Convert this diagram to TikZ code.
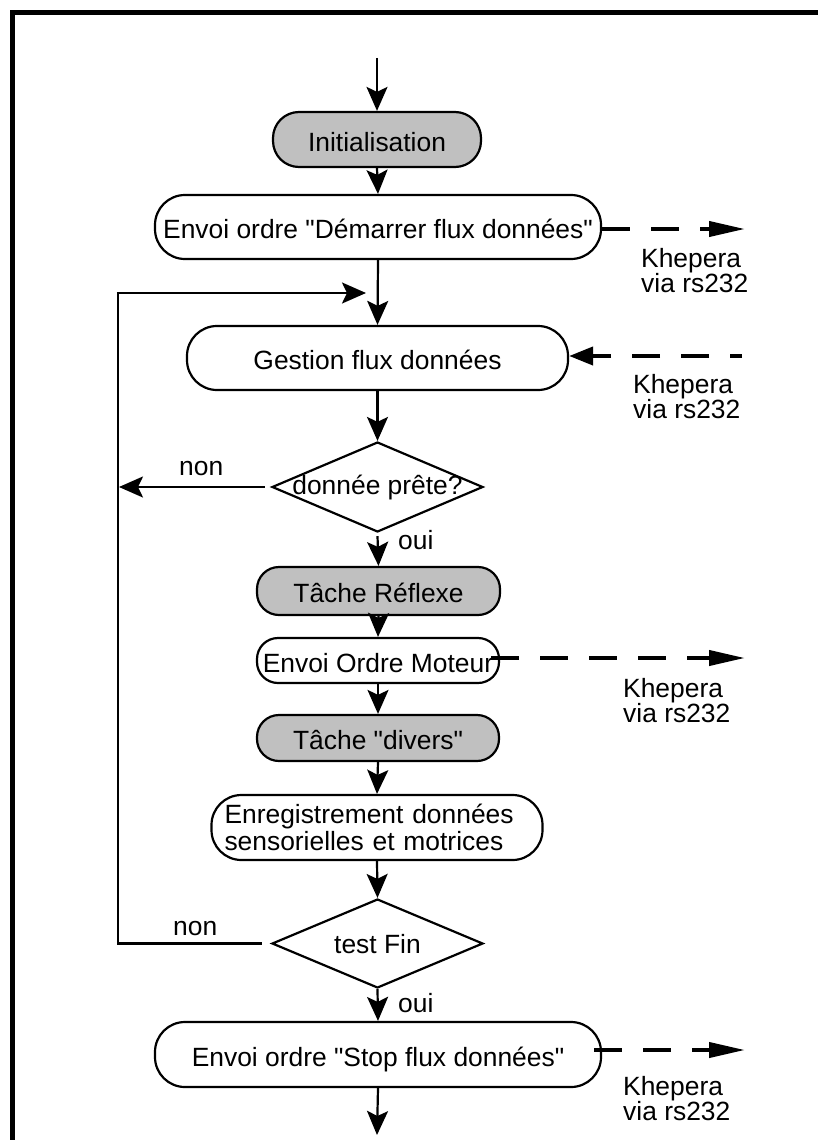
\documentclass[tikz,border=0pt]{standalone}
\usepackage{fontspec}
\setmainfont{Liberation Sans}[Ligatures=TeXOff]
\usetikzlibrary{arrows.meta,shapes.geometric}
\definecolor{boxgray}{RGB}{192,192,192}
\begin{document}
\begin{tikzpicture}[x=1pt,y=-1pt,
  txt/.style={font=\fontsize{26.4}{25.5}\selectfont, inner sep=0pt},
  proc/.style={draw, line width=2.2pt, inner sep=0pt, text height=23pt, text depth=0pt,
               font=\fontsize{26.4}{27}\selectfont},
  grayproc/.style={proc, fill=boxgray},
  decision/.style={draw, diamond, line width=2.2pt, inner sep=0pt, fill=white},
  arr/.style={line width=2.2pt, -{Stealth[length=24pt,width=21pt,inset=5pt]}},
  plainline/.style={line width=2.2pt},
  dasharr/.style={line width=4pt, dash pattern=on 28pt off 21pt, -{Triangle[length=36pt,width=15pt]}},
  dasharrin/.style={line width=4pt, dash pattern=on 28pt off 21pt, dash phase=16pt, -{Triangle[length=24pt,width=18pt]}}
]
\useasboundingbox (0,0) rectangle (818,1140);
\fill[white] (0,0) rectangle (818,1140);
% frame
\draw[line width=5pt] (12.5,1160) -- (12.5,12.5) -- (840,12.5);

% nodes
\coordinate (top) at (377,58);
\node[grayproc, minimum width=208pt, minimum height=55pt, rounded corners=26pt] (init) at (377,139.5) {Initialisation};
\node[proc, minimum width=446pt, minimum height=64pt, rounded corners=30pt] (start) at (378,227) {Envoi ordre "Démarrer flux données"};
\node[proc, minimum width=381pt, minimum height=64pt, rounded corners=30pt] (gestion) at (377.5,358) {Gestion flux données};
\node[decision, minimum width=211pt, minimum height=90pt] (d1) at (377.5,487) {};
\node[txt, anchor=base] (d1t) at ([yshift=-7pt]d1.center) {donnée prête?};
\node[grayproc, minimum width=243pt, minimum height=48pt, rounded corners=22pt] (reflexe) at (378.5,591) {Tâche Réflexe};
\node[proc, minimum width=242pt, minimum height=45pt, rounded corners=21pt] (moteur) at (378,660.5) {Envoi Ordre Moteur};
\node[grayproc, minimum width=242pt, minimum height=46pt, rounded corners=22pt] (divers) at (378,738) {Tâche "divers"};
\node[proc, text height=, text depth=, minimum height=65pt, rounded corners=30pt,
      inner xsep=13pt, text width=305pt, align=left] (enreg) at (377,827.5)
      {Enregistrement données\\sensorielles et motrices};
\node[decision, minimum width=211pt, minimum height=89pt] (d2) at (377.5,943.5) {};
\node[txt, anchor=base] (d2t) at ([yshift=-9.5pt]d2.center) {test Fin};
\node[proc, minimum width=446pt, minimum height=65pt, rounded corners=30pt] (stop) at (378,1054.5) {Envoi ordre "Stop flux données"};
\coordinate (bot) at (377,1135);

% main flow
\draw[arr] (top) -- (init.north);
\draw[arr] (init.south) -- (start.north);
\draw[arr] (start.south) -- (gestion.north);
\draw[arr] (gestion.south) -- (d1.north);
\draw[arr] ([yshift=-3pt]d1.south) -- (reflexe.north);
\draw[arr] (reflexe.south) -- (moteur.north);
\draw[arr] (moteur.south) -- (divers.north);
\draw[arr] (divers.south) -- (enreg.north);
\draw[arr] (enreg.south) -- (d2.north);
\draw[arr] (d2.south) -- (stop.north);
\draw[arr] (stop.south) -- (bot);

% loops
\coordinate (lt) at (118,293);
\coordinate (lb) at (118,943.5);
\coordinate (join) at (366,293);
\draw[plainline] ([xshift=-9pt]d2.west) -- (lb) -- (lt);
\draw[arr] ([xshift=-1.1pt]lt) -- (join);
\draw[arr] ([xshift=-6pt]d1.west) -- ([xshift=1pt]d1.west -| lt);

% labels non / oui
\node[txt, anchor=base west] (non1) at (179,475) {non};
\node[txt, anchor=base west] (oui1) at (398,549) {oui};
\node[txt, anchor=base west] (non2) at (173,935) {non};
\node[txt, anchor=base west] (oui2) at (398,1012) {oui};

% Khepera links
\coordinate (k1) at (745,229);
\coordinate (k2) at (742,356);
\coordinate (k3) at (745,658);
\coordinate (k4) at (745,1050);
\draw[dasharr] (start.east |- k1) -- (k1);
\draw[dasharrin] (k2) -- (gestion.east |- k2);
\draw[dasharr] ([xshift=-9pt]moteur.east |- k3) -- (k3);
\draw[dasharr] ([xshift=-8pt]stop.east |- k4) -- (k4);

\node[txt, anchor=north west, align=left] (l1) at (641,248) {Khepera\\via rs232};
\node[txt, anchor=north west, align=left] (l2) at (633,374) {Khepera\\via rs232};
\node[txt, anchor=north west, align=left] (l3) at (623,678) {Khepera\\via rs232};
\node[txt, anchor=north west, align=left] (l4) at (623,1076) {Khepera\\via rs232};
\end{tikzpicture}
\end{document}
